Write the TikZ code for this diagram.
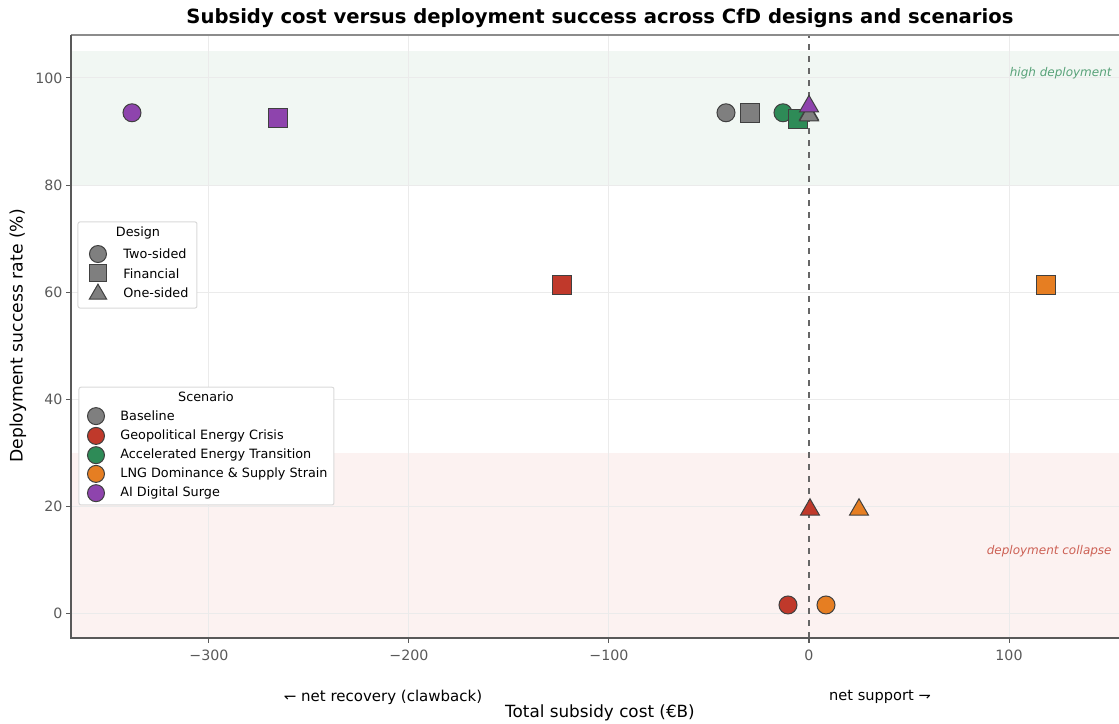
\documentclass[tikz,border=0pt]{standalone}
\usepackage{fontspec}
\setmainfont{DejaVu Sans}
\usetikzlibrary{shapes.geometric}
\definecolor{cbase}{HTML}{7F7F7F}
\definecolor{ccrisis}{HTML}{C0392B}
\definecolor{ctrans}{HTML}{2E8B57}
\definecolor{clng}{HTML}{E67E22}
\definecolor{cai}{HTML}{8E44AD}
\definecolor{bandhi}{HTML}{F1F7F3}
\definecolor{bandlo}{HTML}{FCF2F1}

\begin{document}
\begin{tikzpicture}[
   x=1pt,y=2.675pt,
   font=\fontsize{7.1}{8}\selectfont,
   two/.style={circle,draw=black!75,line width=.5pt,minimum size=9pt,inner sep=0pt},
   fin/.style={rectangle,draw=black!75,line width=.5pt,minimum size=9.5pt,inner sep=0pt},
   one/.style={regular polygon,regular polygon sides=3,draw=black!75,line width=.5pt,minimum size=11pt,inner sep=0pt},
   ltwo/.style={two,minimum size=8.5pt},
   lfin/.style={fin,minimum size=8.5pt},
   lone/.style={one,minimum size=10pt},
   gridline/.style={black!8,line width=.5pt},
   axisline/.style={black!65,line width=1pt},
   tickmark/.style={black!65,line width=.5pt},
   legbox/.style={draw=black!15,fill=white,rounded corners=1pt,line width=.5pt},
   legtext/.style={anchor=west,inner sep=0pt,font=\fontsize{6.4}{7}\selectfont},
   note/.style={anchor=east,inner sep=0pt,font=\fontsize{6}{7}\selectfont\itshape}]
\useasboundingbox (-404.5,-20.56) rectangle (155,114.58);
% bands
\fill[bandhi] (-369,80) rectangle (155,105);
\fill[bandlo] (-369,-4.67) rectangle (155,30);
% grid
\draw[gridline] (-300,-4.67) -- (-300,108.04);
\draw[gridline] (-200,-4.67) -- (-200,108.04);
\draw[gridline] (-100,-4.67) -- (-100,108.04);
\draw[gridline] (100,-4.67) -- (100,108.04);
\draw[gridline] (-369,0) -- (155,0);
\draw[gridline] (-369,20) -- (155,20);
\draw[gridline] (-369,40) -- (155,40);
\draw[gridline] (-369,60) -- (155,60);
\draw[gridline] (-369,80) -- (155,80);
\draw[gridline] (-369,100) -- (155,100);
\draw[black!60,dashed,line width=.6pt] (0,-4.67) -- (0,108.04);
% frame
\draw[black!45,line width=1pt] (-369,108.04) -- (155,108.04);
\draw[axisline] (-369,108.04) -- (-369,-4.67) -- (155,-4.67);
% ticks and labels
\draw[tickmark] (-369,0) -- ++(-2.5,0) node[left,inner sep=1.5pt] (y0) {0};
\draw[tickmark] (-369,20) -- ++(-2.5,0) node[left,inner sep=1.5pt] (y20) {20};
\draw[tickmark] (-369,40) -- ++(-2.5,0) node[left,inner sep=1.5pt] (y40) {40};
\draw[tickmark] (-369,60) -- ++(-2.5,0) node[left,inner sep=1.5pt] (y60) {60};
\draw[tickmark] (-369,80) -- ++(-2.5,0) node[left,inner sep=1.5pt] (y80) {80};
\draw[tickmark] (-369,100) -- ++(-2.5,0) node[left,inner sep=1.5pt] (y100) {100};
\draw[tickmark] (-300,-4.67) -- ++(0,-.93) node[below,inner sep=3pt] (xm300) {−300};
\draw[tickmark] (-200,-4.67) -- ++(0,-.93) node[below,inner sep=3pt] (xm200) {−200};
\draw[tickmark] (-100,-4.67) -- ++(0,-.93) node[below,inner sep=3pt] (xm100) {−100};
\draw[tickmark] (0,-4.67) -- ++(0,-.93) node[below,inner sep=3pt] (x0) {0};
\draw[tickmark] (100,-4.67) -- ++(0,-.93) node[below,inner sep=3pt] (x100) {100};
% titles
\node[font=\fontsize{9.8}{11}\selectfont\bfseries] (title) at (-104.5,111.2) {Subsidy cost versus deployment success across CfD designs and scenarios};
\node[rotate=90,font=\fontsize{8.6}{10}\selectfont] (ytitle) at (-395.5,51.8) {Deployment success rate (\%)};
\node[font=\fontsize{8.4}{10}\selectfont] (xtitle) at (-104.5,-18.7) {Total subsidy cost (€B)};
\node[font=\fontsize{7.5}{9}\selectfont] (recovery) at (-213,-15.7) {↽ net recovery (clawback)};
\node[font=\fontsize{7.3}{9}\selectfont] (support) at (35.5,-15.7) {net support ⇁};
\node[note,text=ctrans!80] (hi) at (151.5,100.9) {high deployment};
\node[note,text=ccrisis!80] (lo) at (151.5,11.6) {deployment collapse};
% points
\node[two,fill=cai] (ai-two) at (-338.5,93.5) {};
\node[fin,fill=cai] (ai-fin) at (-265.5,92.5) {};
\node[two,fill=cbase] (base-two) at (-41.5,93.5) {};
\node[fin,fill=cbase] (base-fin) at (-29.5,93.5) {};
\node[two,fill=ctrans] (trans-two) at (-13,93.5) {};
\node[fin,fill=ctrans] (trans-fin) at (-5.5,92.3) {};
\node[one,fill=ctrans] (trans-one) at (0,93.2) {};
\node[one,fill=cbase] (base-one) at (0,93) {};
\node[one,fill=cai] (ai-one) at (0,94.7) {};
\node[fin,fill=ccrisis] (crisis-fin) at (-123.5,61.3) {};
\node[fin,fill=clng] (lng-fin) at (118.5,61.3) {};
\node[one,fill=ccrisis] (crisis-one) at (0.5,19.3) {};
\node[one,fill=clng] (lng-one) at (25,19.3) {};
\node[two,fill=ccrisis] (crisis-two) at (-10.5,1.5) {};
\node[two,fill=clng] (lng-two) at (8.5,1.5) {};
% legend: design
\draw[legbox] (-365.5,57) rectangle (-306,73.1);
\node[font=\fontsize{6.4}{7}\selectfont] (design) at (-335.5,71) {Design};
\node[ltwo,fill=cbase] (d-two) at (-355.5,67.1) {};
\node[lfin,fill=cbase] (d-fin) at (-355.5,63.5) {};
\node[lone,fill=cbase] (d-one) at (-355.5,59.6) {};
\node[legtext] (t-two) at (-343,67.1) {Two-sided};
\node[legtext] (t-fin) at (-343,63.5) {Financial};
\node[legtext] (t-one) at (-343,59.8) {One-sided};
% legend: scenario
\draw[legbox] (-365,20.2) rectangle (-237.5,42.2);
\node[font=\fontsize{6.4}{7}\selectfont] (scenario) at (-301.5,40.4) {Scenario};
\node[ltwo,fill=cbase] (s-base) at (-356.5,36.8) {};
\node[ltwo,fill=ccrisis] (s-crisis) at (-356.5,33.1) {};
\node[ltwo,fill=ctrans] (s-trans) at (-356.5,29.5) {};
\node[ltwo,fill=clng] (s-lng) at (-356.5,26) {};
\node[ltwo,fill=cai] (s-ai) at (-356.5,22.4) {};
\node[legtext] (t-base) at (-344.5,36.8) {Baseline};
\node[legtext] (t-crisis) at (-344.5,33.1) {Geopolitical Energy Crisis};
\node[legtext] (t-trans) at (-344.5,29.5) {Accelerated Energy Transition};
\node[legtext] (t-lng) at (-344.5,26) {LNG Dominance \& Supply Strain};
\node[legtext] (t-ai) at (-344.5,22.4) {AI Digital Surge};
\end{tikzpicture}
\end{document}
